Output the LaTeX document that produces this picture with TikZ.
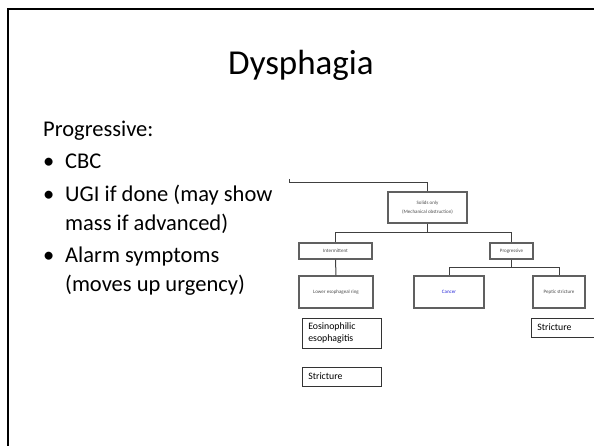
\documentclass[tikz,border=0pt]{standalone}
\usepackage{fontspec}
\setmainfont{Carlito}
\begin{document}
\begin{tikzpicture}[x=1pt,y=-1pt,
  fbox/.style={draw=gray!75!black, line width=1.2pt, fill=white, inner sep=0pt, font=\fontsize{5}{6.5}\selectfont, text=gray!60!black, align=center},
  conn/.style={draw=gray!50!black, line width=1pt},
  obox/.style={draw=black!80, line width=0.6pt, fill=white, inner sep=0pt, font=\fontsize{9.8}{12}\selectfont, align=left, anchor=west},
  body/.style={anchor=base west, inner sep=0pt, font=\fontsize{22.5}{27}\selectfont}]
\useasboundingbox (0,0) rectangle (594,446);
\fill[white] (0,0) rectangle (594,446);
% slide frame
\draw[line width=2.4pt] (8,446) -- (8,9) -- (594,9);
% title
\node[anchor=base, inner sep=0pt, font=\fontsize{35}{42}\selectfont] (title) at (301,75) {Dysphagia};
% left text
\node[body] (prog) at (43,137) {Progressive:};
\node[body] (b1) at (43,169) {•};
\node[body] (t1) at (65,169) {CBC};
\node[body] (b2) at (43,202) {•};
\node[body] (t2) at (65,202) {UGI if done (may show};
\node[body] (t2b) at (65,231) {mass if advanced)};
\node[body] (b3) at (43,262) {•};
\node[body] (t3) at (65,262) {Alarm symptoms};
\node[body] (t3b) at (65,291) {(moves up urgency)};
% flowchart
\node[fbox, minimum width=79pt, minimum height=31pt] (solids) at (427.5,207.5) {Solids only\\[2pt](Mechanical obstruction)};
\node[fbox, minimum width=73pt, minimum height=16pt] (inter) at (335.5,251) {Intermittent};
\node[fbox, minimum width=43pt, minimum height=16pt] (progr) at (511.5,251) {Progressive};
\node[fbox, minimum width=74pt, minimum height=32pt] (lower) at (336,292) {Lower esophageal ring};
\node[fbox, minimum width=70pt, minimum height=32pt, text=blue!70!gray] (cancer) at (449,292) {Cancer};
\node[fbox, minimum width=52pt, minimum height=32pt] (peptic) at (559,292) {Peptic stricture};
\coordinate (start) at (289,183);
\coordinate (tick) at (289,179);
\draw[conn] (tick) -- (start) -| (solids.north);
\draw[conn] (solids.south) -- ++(0,9) -| (inter.north);
\draw[conn] (solids.south) -- ++(0,9) -| (progr.north);
\draw[conn] (inter.south) -- (lower.north);
\draw[conn] (progr.south) -- ++(0,8) -| (cancer.north);
\draw[conn] (progr.south) -- ++(0,8) -| (peptic.north);
% overlay boxes
\node[obox, minimum width=75pt, minimum height=30pt, text width=67pt, inner xsep=6pt] (eos) at (302,333) {Eosinophilic\\esophagitis};
\node[obox, minimum width=75pt, minimum height=19pt, text width=67pt, inner xsep=6pt] (str1) at (302,376.5) {Stricture};
\node[obox, minimum width=60pt, minimum height=19pt, text width=52pt, inner xsep=6pt] (str2) at (531,327.5) {Stricture};
\end{tikzpicture}
\end{document}
